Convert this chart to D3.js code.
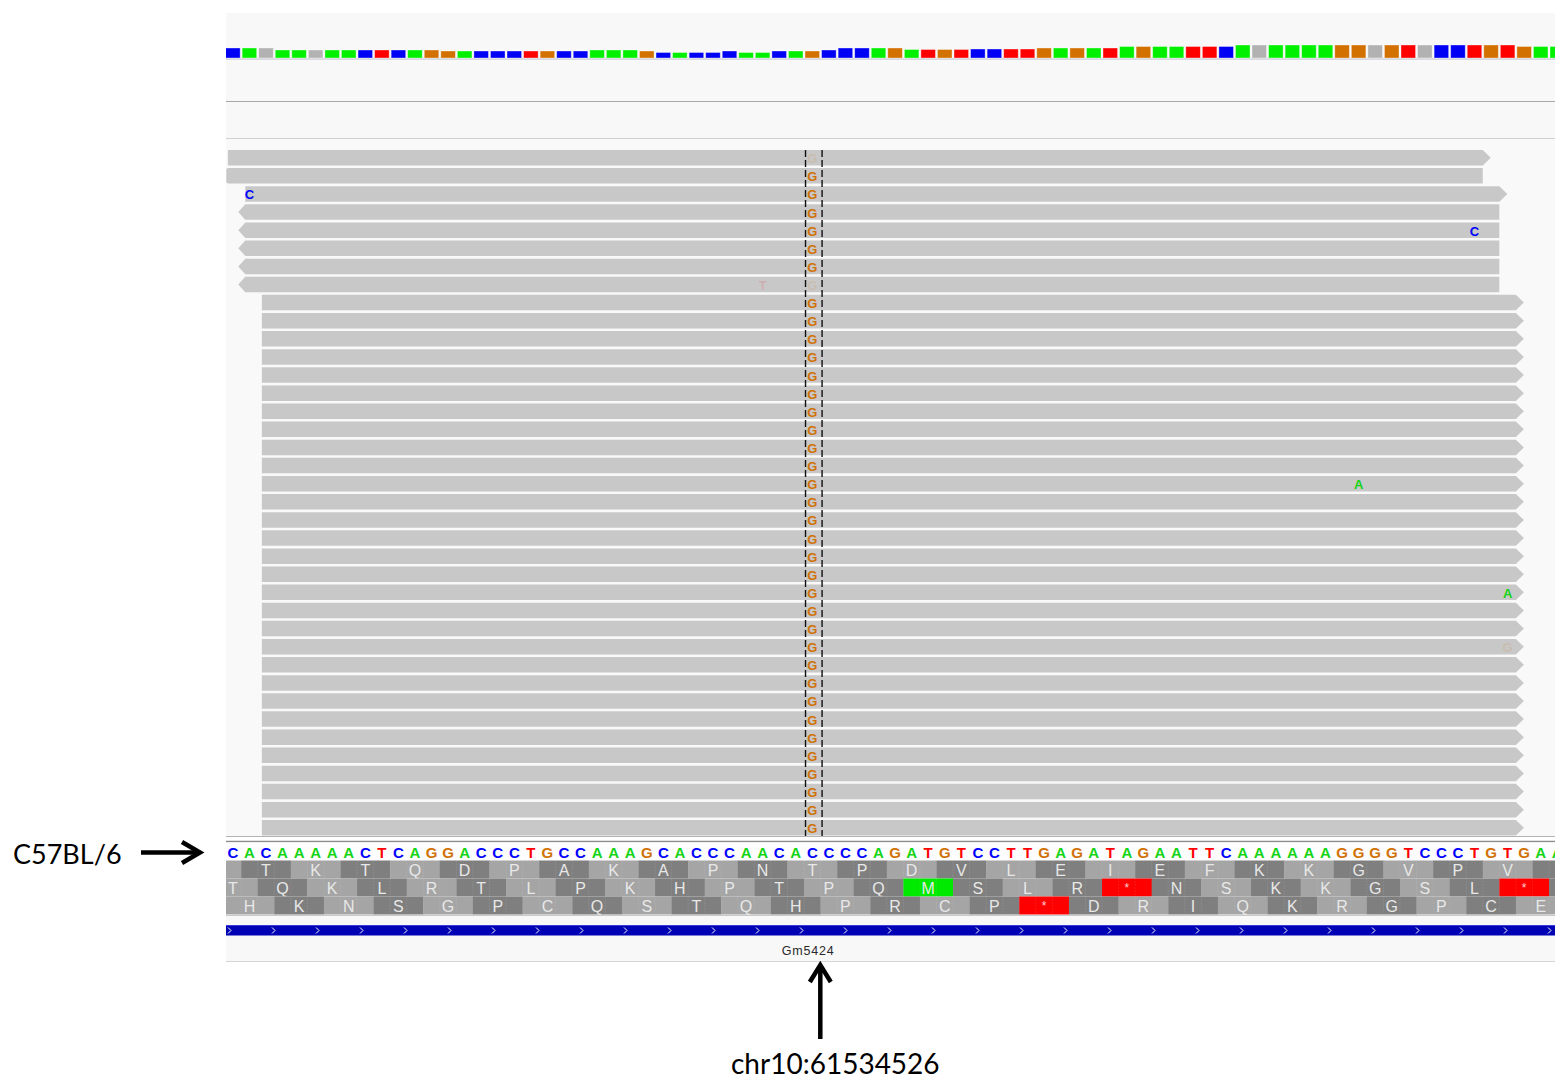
<!DOCTYPE html>
<html>
<head>
<meta charset="utf-8">
<script src="https://cdn.jsdelivr.net/npm/d3@7"></script>
<style>
  body { margin: 0; background: #ffffff; }
  svg { display: block; }
</style>
</head>
<body>
<svg id="chart" width="1555" height="1079"></svg>
<script>
// ---- data ---------------------------------------------------------------
const chrom = "chr10";
const viewStart = 61534491;           // genomic position of the first base in view
const markerPos = 61534526;           // highlighted variant position
const strainLabel = "C57BL/6";
const geneName = "Gm5424";

// reference sequence in view (offset 0 = viewStart)
const refSeq = ("CACAAAAACT" + "CAGGACCCTG" + "CCAAAGCACC" + "CAACACCCCA" +
                "GATGTCCTTG" + "AGATAGAATT" + "CAAAAAAGGG" + "GTCCCTGTGA" + "A").split("");

// per-base bar track: allele shown per base (N = grey) and depth
const barAllele = ("CANAANAACT" + "CAGGACCCTG" + "CCAAAGCACC" + "CAACAGCCCA" +
                   "GATGTCCTTG" + "AGATAGAATT" + "CANAAAAGGN" + "GTNCCTGTGA" + "A").split("");
const barDepth = [40, 40, 40, 32, 32, 32, 32, 32, 32, 32,
                  32, 32, 32, 28, 28, 28, 28, 28, 28, 28,
                  28, 28, 32, 32, 32, 28, 22, 22, 22, 22,
                  28, 22, 22, 28, 28, 28, 32, 40, 40, 40,
                  40, 34, 34, 34, 34, 36, 36, 36, 36, 40,
                  40, 40, 40, 40, 46, 46, 46, 46, 46, 46,
                  46, 52, 52, 52, 52, 52, 52, 52, 52, 52,
                  52, 52, 52, 52, 52, 52, 52, 52, 46, 46, 46];

// three-frame translation: first codon offset and residues
const frames = [
  { first: -2, residues: ["", "T","K","T","Q","D","P","A","K","A","P","N","T","P","D","V","L","E","I","E","F","K","K","G","V","P","V",""] },
  { first: -1, residues: ["T","Q","K","L","R","T","L","P","K","H","P","T","P","Q","M","S","L","R","*","N","S","K","K","G","S","L","*",""] },
  { first: 0,  residues: ["H","K","N","S","G","P","C","Q","S","T","Q","H","P","R","C","P","*","D","R","I","Q","K","R","G","P","C","E"] }
];

// aligned reads, grouped by identical extent (offsets in bases)
const readGroups = [
  { start: 0.2,  end: 76, strand: "+", count: 1 },
  { start: 0.1,  end: 76, strand: "",  count: 1 },
  { start: 1.25, end: 77, strand: "+", count: 1 },
  { start: 1.25, end: 77, strand: "-", count: 5 },
  { start: 2.25, end: 78, strand: "+", count: 30 }
];

// base call at the variant position for each read row (h = high quality, l = low)
const variantAllele = "G";
const variantQual = ["l","h","h","h","h","h","h","l","h","h",
                     "h","h","h","h","h","h","h","h","h","h",
                     "h","h","h","h","h","h","h","h","h","h",
                     "h","h","h","h","h","h","h","h"];

// other mismatches: read row, offset, base, quality
const mismatches = [
  { row: 2,  pos: 1,  base: "C", q: "h" },
  { row: 4,  pos: 75, base: "C", q: "h" },
  { row: 7,  pos: 32, base: "T", q: "l" },
  { row: 18, pos: 68, base: "A", q: "h" },
  { row: 24, pos: 77, base: "A", q: "h" },
  { row: 27, pos: 77, base: "G", q: "l" }
];

// ---- styles -------------------------------------------------------------
const baseColor = { A: "#16d416", C: "#0000ff", G: "#d17105", T: "#ff0000" };
const barColor  = { A: "#00f000", C: "#0000f5", G: "#d27000", T: "#ff0000", N: "#b2b2b2" };
const readFill = "#c8c8c8";
const seqFont = "'Liberation Sans', Arial, sans-serif";
const noteFont = "Lato, 'Open Sans', sans-serif";

// ---- layout -------------------------------------------------------------
const panelX0 = 226, panelX1 = 1555;
const svg = d3.select("#chart");

// base offset -> pixel (left edge of the base)
const x = d3.scaleLinear().domain([0, 80]).range([224.6, 1549]);
const bw = x(1) - x(0);

// read row -> top pixel
const nRows = readGroups.reduce((s, g) => s + g.count, 0);
const rowY = d3.scaleLinear().domain([0, nRows - 1]).range([150, 820]);
const readH = 15.5;

// depth -> bar height
const depthY = d3.scaleLinear().domain([0, d3.max(barDepth)]).range([58, 45]);

svg.append("defs").append("clipPath").attr("id", "panelClip")
  .append("rect").attr("x", panelX0).attr("y", 0).attr("width", panelX1 - panelX0).attr("height", 1079);

const panel = svg.append("g").attr("clip-path", "url(#panelClip)");

// track backgrounds and separators
panel.append("rect").attr("x", panelX0).attr("y", 13).attr("width", panelX1 - panelX0).attr("height", 88).attr("fill", "#f8f8f8");
panel.append("line").attr("x1", panelX0).attr("x2", panelX1).attr("y1", 101.5).attr("y2", 101.5).attr("stroke", "#a8a8a8");
panel.append("rect").attr("x", panelX0).attr("y", 102).attr("width", panelX1 - panelX0).attr("height", 36).attr("fill", "#f8f8f8");
panel.append("line").attr("x1", panelX0).attr("x2", panelX1).attr("y1", 138.5).attr("y2", 138.5).attr("stroke", "#d0d0d0");
panel.append("rect").attr("x", panelX0).attr("y", 139).attr("width", panelX1 - panelX0).attr("height", 697).attr("fill", "#f9f9f9");
panel.append("line").attr("x1", panelX0).attr("x2", panelX1).attr("y1", 836.5).attr("y2", 836.5).attr("stroke", "#b4b4b4");
panel.append("line").attr("x1", panelX0).attr("x2", panelX1).attr("y1", 841.5).attr("y2", 841.5).attr("stroke", "#8c8c8c").attr("stroke-width", 1.5);
panel.append("rect").attr("x", panelX0).attr("y", 842.5).attr("width", panelX1 - panelX0).attr("height", 18).attr("fill", "#fdfdfd");
panel.append("line").attr("x1", panelX0).attr("x2", panelX1).attr("y1", 915.5).attr("y2", 915.5).attr("stroke", "#c8c8c8");
panel.append("rect").attr("x", panelX0).attr("y", 916).attr("width", panelX1 - panelX0).attr("height", 45).attr("fill", "#f8f8f8");
panel.append("line").attr("x1", panelX0).attr("x2", panelX1).attr("y1", 961.5).attr("y2", 961.5).attr("stroke", "#d6d6d6");

// ---- per-base bar track -------------------------------------------------
panel.append("line").attr("x1", panelX0).attr("x2", panelX1).attr("y1", 59).attr("y2", 59)
  .attr("stroke", "#cfcfd8").attr("stroke-width", 1.5);
panel.append("g").selectAll("rect").data(barDepth).join("rect")
  .attr("x", (d, i) => x(i) + 1)
  .attr("width", bw - 2)
  .attr("y", d => depthY(d))
  .attr("height", d => depthY(0) - depthY(d))
  .attr("fill", (d, i) => barColor[barAllele[i]])
  .attr("stroke", "#ffffff").attr("stroke-opacity", 0.45).attr("stroke-width", 0.8);

// ---- reads ---------------------------------------------------------------
const reads = [];
readGroups.forEach(g => { for (let k = 0; k < g.count; k++) reads.push(g); });

panel.append("g").selectAll("path").data(reads).join("path")
  .attr("fill", readFill)
  .attr("d", (r, i) => {
    const x0 = x(r.start), x1 = x(r.end), t = rowY(i), b = t + readH, m = t + readH / 2;
    if (r.strand === "+") return `M${x0},${t}H${x1}L${x1 + 8},${m}L${x1},${b}H${x0}Z`;
    if (r.strand === "-") return `M${x0},${t}H${x1}V${b}H${x0}L${x0 - 7},${m}Z`;
    return `M${x0 + 2},${t}H${x1}V${b}H${x0 + 2}Q${x0},${b} ${x0},${b - 2}V${t + 2}Q${x0},${t} ${x0 + 2},${t}Z`;
  });

// variant column letters
const varOffset = markerPos - viewStart;
panel.append("g").selectAll("text").data(variantQual).join("text")
  .attr("x", x(varOffset + 0.5))
  .attr("y", (q, i) => rowY(i) + readH / 2 + 1)
  .attr("text-anchor", "middle").attr("dominant-baseline", "central")
  .attr("font-family", seqFont).attr("font-weight", "bold").attr("font-size", 13)
  .attr("fill", baseColor[variantAllele])
  .attr("fill-opacity", q => q === "h" ? 1 : 0.15)
  .text(variantAllele);

// other mismatches
panel.append("g").selectAll("text").data(mismatches).join("text")
  .attr("x", d => x(d.pos + 0.5))
  .attr("y", d => rowY(d.row) + readH / 2 + 1)
  .attr("text-anchor", "middle").attr("dominant-baseline", "central")
  .attr("font-family", seqFont).attr("font-weight", "bold").attr("font-size", 13)
  .attr("fill", d => baseColor[d.base])
  .attr("fill-opacity", d => d.q === "h" ? 1 : 0.15)
  .text(d => d.base);

// dashed guides around the variant base
[varOffset, varOffset + 1].forEach(o => {
  panel.append("line")
    .attr("x1", x(o) + 1.5).attr("x2", x(o) + 1.5)
    .attr("y1", 150).attr("y2", 836)
    .attr("stroke", "#111").attr("stroke-width", 1.4).attr("stroke-dasharray", "7,3");
});

// ---- reference sequence ---------------------------------------------------
panel.append("g").selectAll("text").data(refSeq).join("text")
  .attr("x", (b, i) => x(i + 0.5))
  .attr("y", 852.5)
  .attr("text-anchor", "middle").attr("dominant-baseline", "central")
  .attr("font-family", seqFont).attr("font-weight", "bold").attr("font-size", 15)
  .attr("fill", b => baseColor[b])
  .text(b => b);

// ---- translation -----------------------------------------------------------
const aaTop = 860.5, aaH = 18;
frames.forEach((f, fi) => {
  const codons = f.residues.map((aa, k) => ({ aa, start: f.first + 3 * k }));
  const g = panel.append("g");
  g.selectAll("rect").data(codons).join("rect")
    .attr("x", c => x(c.start))
    .attr("width", 3 * bw + 0.3)
    .attr("y", aaTop + fi * aaH)
    .attr("height", aaH)
    .attr("fill", c => c.aa === "M" ? "#00ea00" : c.aa === "*" ? "#ff0000"
      : (Math.floor((c.start + 2) / 3) % 2 !== 0 ? "#7f7f7f" : "#a5a5a5"));
  // faint dotted base boundaries inside each codon
  g.selectAll("line").data(codons.flatMap(c => [c.start + 1, c.start + 2])).join("line")
    .attr("x1", p => x(p)).attr("x2", p => x(p))
    .attr("y1", aaTop + fi * aaH).attr("y2", aaTop + (fi + 1) * aaH)
    .attr("stroke", "#ffffff").attr("stroke-opacity", 0.18).attr("stroke-dasharray", "1,2");
  g.selectAll("text").data(codons.filter(c => c.aa !== "")).join("text")
    .attr("x", c => x(c.start + 1.5))
    .attr("y", aaTop + fi * aaH + aaH / 2 + 0.5)
    .attr("text-anchor", "middle").attr("dominant-baseline", "central")
    .attr("font-family", seqFont)
    .attr("font-size", c => c.aa === "*" ? 12 : 16)
    .attr("fill", c => c.aa === "*" ? "#ffd0d0" : "#e8e8e8")
    .text(c => c.aa);
});

// ---- gene track -------------------------------------------------------------
panel.append("rect").attr("x", panelX0).attr("y", 925.5).attr("width", panelX1 - panelX0).attr("height", 10)
  .attr("fill", "#0000b4");
panel.append("line").attr("x1", panelX0).attr("x2", panelX1).attr("y1", 925.5).attr("y2", 925.5)
  .attr("stroke", "#3a3ad6").attr("stroke-width", 1);
panel.append("g").selectAll("path").data(d3.range(228, panelX1, 44)).join("path")
  .attr("d", cx => `M${cx},${927.5}L${cx + 3},${930.5}L${cx},${933.5}`)
  .attr("fill", "none").attr("stroke", "#ffffff").attr("stroke-width", 1);
panel.append("text")
  .attr("x", x(varOffset + 0.25)).attr("y", 955)
  .attr("text-anchor", "middle")
  .attr("font-family", seqFont).attr("font-size", 12.5).attr("letter-spacing", 0.8)
  .attr("fill", "#2a2a2a")
  .text(geneName);

// ---- annotations ------------------------------------------------------------
const note = svg.append("g");
note.append("text")
  .attr("x", 13).attr("y", 864)
  .attr("font-family", noteFont).attr("font-size", 27).attr("fill", "#000")
  .text(strainLabel);
note.append("line").attr("x1", 141).attr("x2", 198).attr("y1", 852.5).attr("y2", 852.5)
  .attr("stroke", "#000").attr("stroke-width", 4.5);
note.append("path").attr("d", "M182,842L200,852.5L182,863")
  .attr("fill", "none").attr("stroke", "#000").attr("stroke-width", 4.5).attr("stroke-linejoin", "miter");

const arrowX = x(varOffset + 0.5) + 8;
note.append("line").attr("x1", arrowX).attr("x2", arrowX).attr("y1", 1039).attr("y2", 966)
  .attr("stroke", "#000").attr("stroke-width", 4.5);
note.append("path").attr("d", `M${arrowX - 10.5},${982}L${arrowX},${965}L${arrowX + 10.5},${982}`)
  .attr("fill", "none").attr("stroke", "#000").attr("stroke-width", 4.5).attr("stroke-linejoin", "miter");
note.append("text")
  .attr("x", arrowX + 15).attr("y", 1074)
  .attr("text-anchor", "middle")
  .attr("font-family", noteFont).attr("font-size", 28).attr("fill", "#000")
  .text(`${chrom}:${markerPos}`);
</script>
</body>
</html>
